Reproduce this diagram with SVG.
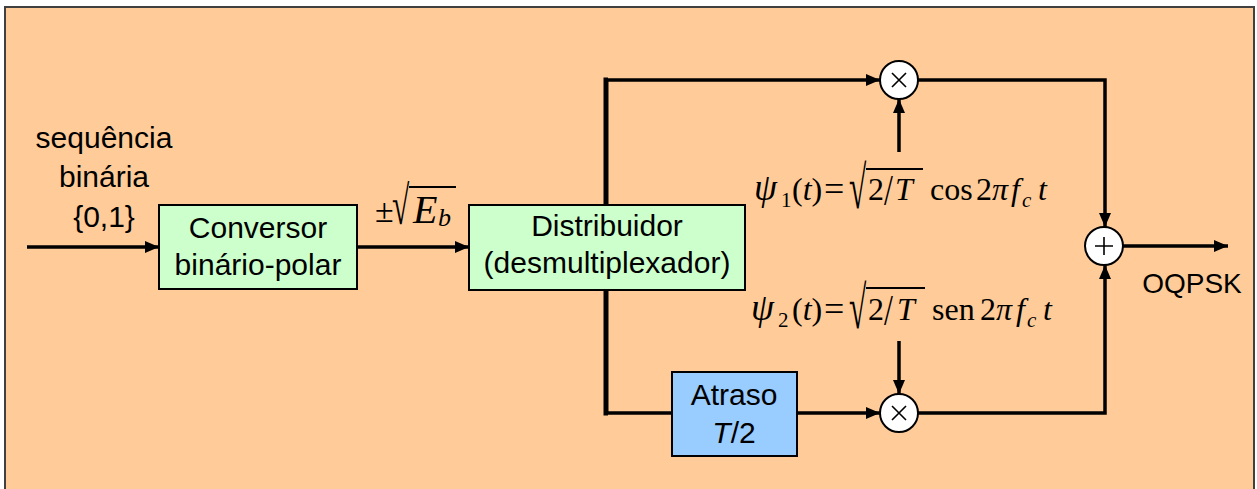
<svg xmlns="http://www.w3.org/2000/svg" width="1257" height="489" viewBox="0 0 1257 489">
<style>
.bg{fill:#FFCC99;stroke:#404040;stroke-width:2}
.g{fill:#CCFFCC;stroke:#000;stroke-width:2}
.b{fill:#99CCFF;stroke:#000;stroke-width:2}
.c{fill:#fff;stroke:#000;stroke-width:2}
.sym{stroke:#000;stroke-width:1.6;fill:none}
.w{stroke:#000;stroke-width:3.5;fill:none}
.wt{stroke:#000;stroke-width:5;fill:none}
.t{font-family:"Liberation Sans",Arial,sans-serif;font-size:30px;fill:#000;text-anchor:middle}
.m{font-family:"Liberation Serif","Times New Roman",serif;font-size:32px;fill:#000}
.s{font-size:21px}
.i{font-style:italic}
.ps{font-size:37px}
.ov{stroke:#000;stroke-width:1.8}
</style>
<defs>
<marker id="ah" viewBox="0 0 14 12" refX="14" refY="6" markerWidth="14" markerHeight="12" markerUnits="userSpaceOnUse" orient="auto">
<path d="M0,0 L14,6 L0,12 Z" fill="#000"/>
</marker>
</defs>
<rect class="bg" x="5" y="7" width="1249" height="500"/>
<g id="connectors">
<line class="w" x1="27" y1="247" x2="159" y2="247" marker-end="url(#ah)"/>
<line class="w" x1="357" y1="247" x2="469" y2="247" marker-end="url(#ah)"/>
<polyline class="wt" points="606,205 606,80 608,80"/>
<line class="w" x1="606" y1="80" x2="880" y2="80" marker-end="url(#ah)"/>
<polyline class="wt" points="606,290 606,413 608,413"/>
<line class="w" x1="606" y1="413" x2="672" y2="413"/>
<line class="w" x1="797" y1="413" x2="880" y2="413" marker-end="url(#ah)"/>
<line class="w" x1="899" y1="152" x2="899" y2="99" marker-end="url(#ah)"/>
<line class="w" x1="899" y1="341" x2="899" y2="394" marker-end="url(#ah)"/>
<polyline class="w" points="918,80 1105,80 1105,227" marker-end="url(#ah)"/>
<polyline class="w" points="918,413 1105,413 1105,265" marker-end="url(#ah)"/>
<line class="w" x1="1123" y1="246" x2="1228" y2="246" marker-end="url(#ah)"/>
</g>
<g id="input-label">
<text class="t" x="104" y="148">sequência</text>
<text class="t" x="104" y="187">binária</text>
<text class="t" x="104" y="227">{0,1}</text>
</g>
<g id="conversor">
<rect class="g" x="159" y="205" width="198" height="84"/>
<text class="t" x="258" y="238">Conversor</text>
<text class="t" x="258" y="275">binário-polar</text>
</g>
<g id="eb-label">
<text class="m" x="375" y="222" style="font-size:34px">±</text>
<text class="m" transform="translate(392,224) scale(1.05,1.8)" x="0" y="0" style="font-size:30px">√</text>
<line class="ov" x1="409" y1="187" x2="456" y2="187"/>
<text class="m i" x="413" y="223" style="font-size:40px">E</text>
<text class="m i" x="438" y="226" style="font-size:26px">b</text>
</g>
<g id="distribuidor">
<rect class="g" x="469" y="205" width="276" height="85"/>
<text class="t" x="607" y="236">Distribuidor</text>
<text class="t" x="607" y="273">(desmultiplexador)</text>
</g>
<g id="atraso">
<rect class="b" x="672" y="372" width="125" height="84"/>
<text class="t" x="734" y="405">Atraso</text>
<text class="t" x="734" y="443"><tspan font-style="italic">T</tspan>/2</text>
</g>
<g id="psi1">
<text class="m i ps" x="754" y="200">ψ</text>
<text class="m s" x="781" y="207">1</text>
<text class="m" x="792" y="200">(<tspan class="i">t</tspan>)</text>
<text class="m" x="824" y="201" style="font-size:36px">=</text>
<text class="m" transform="translate(849,208) scale(1.05,2.0)" x="0" y="0" style="font-size:30px">√</text>
<line class="ov" x1="866" y1="169" x2="923" y2="169"/>
<text class="m" x="868" y="200">2</text>
<text class="m" transform="translate(884,205) scale(1,1.4)" x="0" y="0">/</text>
<text class="m i" x="895" y="200">T</text>
<text class="m" x="930" y="200">cos</text>
<text class="m" x="976" y="200">2</text>
<text class="m i" x="992" y="200">π</text>
<text class="m i" x="1011" y="200">f</text>
<text class="m i s" x="1022" y="207">c</text>
<text class="m i" x="1038" y="200">t</text>
</g>
<g id="psi2">
<text class="m i ps" x="751" y="320">ψ</text>
<text class="m s" x="778" y="327">2</text>
<text class="m" x="792" y="320">(<tspan class="i">t</tspan>)</text>
<text class="m" x="824" y="321" style="font-size:36px">=</text>
<text class="m" transform="translate(849,328) scale(1.05,2.0)" x="0" y="0" style="font-size:30px">√</text>
<line class="ov" x1="866" y1="288" x2="925" y2="288"/>
<text class="m" x="868" y="320">2</text>
<text class="m" transform="translate(884,325) scale(1,1.4)" x="0" y="0">/</text>
<text class="m i" x="897" y="320">T</text>
<text class="m" x="932" y="320">sen</text>
<text class="m" x="980" y="320">2</text>
<text class="m i" x="996" y="320">π</text>
<text class="m i" x="1016" y="320">f</text>
<text class="m i s" x="1027" y="327">c</text>
<text class="m i" x="1043" y="320">t</text>
</g>
<g id="mult1">
<circle class="c" cx="899" cy="80" r="19"/>
<path class="sym" d="M892,73 L906,87 M906,73 L892,87"/>
</g>
<g id="mult2">
<circle class="c" cx="899" cy="413" r="19"/>
<path class="sym" d="M892,406 L906,420 M906,406 L892,420"/>
</g>
<g id="sum">
<circle class="c" cx="1104" cy="246" r="19"/>
<path class="sym" d="M1104,237 L1104,255 M1095,246 L1113,246"/>
</g>
<g id="output-label">
<text class="t" x="1192" y="293" style="font-size:28px">OQPSK</text>
</g>
</svg>
